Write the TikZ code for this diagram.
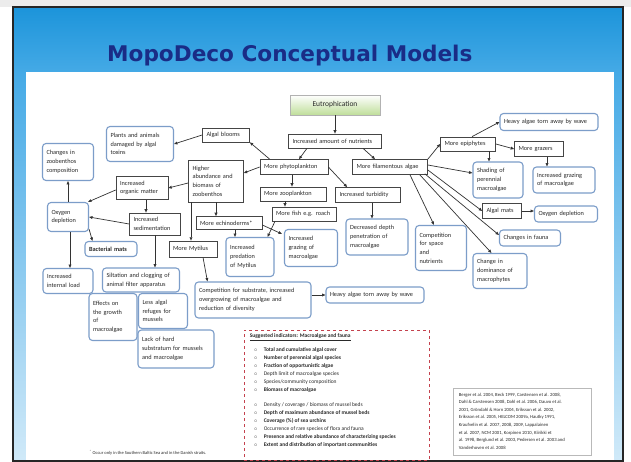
\documentclass[tikz,border=0pt]{standalone}
\usepackage{fontspec}
\setmainfont{Carlito}
\newfontfamily\ttlfont{DejaVu Sans}
\usetikzlibrary{arrows.meta,shadows,calc}
\definecolor{hdrblue}{HTML}{1C94DA}
\definecolor{hdrblueb}{HTML}{45AAE6}
\definecolor{titleblue}{HTML}{1A2C86}
\definecolor{rbblue}{HTML}{7C9DC9}
\definecolor{boxline}{HTML}{454545}
\definecolor{eutgreen}{HTML}{BFDE9A}
\definecolor{dashred}{HTML}{C4424E}
\definecolor{txt}{HTML}{2A2A2A}
\newcommand\boxfont{\fontsize{6.3}{8.7}\selectfont}
\newcommand\ib{\makebox[14pt][l]{\hspace{4pt}$\scriptscriptstyle\circ$}}
\begin{document}
\begin{tikzpicture}[x=1pt,y=-1pt,font=\boxfont,text=txt,
  sq/.style={rectangle,draw=boxline,line width=0.7pt,fill=white,inner sep=2pt,align=left,
    drop shadow={shadow xshift=0.9pt,shadow yshift=-0.9pt,opacity=0.45}},
  rb/.style={rectangle,rounded corners=3.5pt,draw=rbblue,line width=1.1pt,fill=white,inner sep=2pt,align=left},
  wh/.style 2 args={minimum width=#1,minimum height=#2,text width=#1-8},
  arr/.style={draw=black!80,line width=0.7pt,-{Triangle[length=3.4pt,width=2.8pt]}}]
\useasboundingbox (0,0) rectangle (631,462);
% slide background
\fill[white] (0,0) rectangle (631,462);
\fill[gray!15] (0,0) rectangle (631,7);
\shade[top color=hdrblueb,bottom color=hdrblueb!25!white] (13,72) rectangle (623,462);
\shade[top color=hdrblue,bottom color=hdrblueb] (13,7) rectangle (623,73);
\fill[white] (26,72) rectangle (614,462);
\draw[black!85,line width=1.3pt] (13,7) rectangle (623,461);
\node[anchor=base west,inner sep=0,text=titleblue,font=\ttlfont\bfseries\fontsize{21.6}{22}\selectfont] (title) at (107,62) {MopoDeco Conceptual Models};
% nodes
\node[sq,align=center,font=\fontsize{7.5}{9}\selectfont,top color=white,bottom color=eutgreen,draw=gray!60,minimum width=90,minimum height=20] (eut) at (335,105) {Eutrophication};
\node[sq,wh={93}{14}] (nut) at (335,141) {Increased amount of nutrients};
\node[sq,wh={47}{14}] (alg) at (226,135) {Algal blooms};
\node[rb,wh={67}{35}] (plants) at (140,144) {Plants and animals\\damaged by algal\\toxins};
\node[rb,wh={51}{37}] (zbc) at (68,162) {Changes in\\zoobenthos\\composition};
\node[sq,wh={68}{15}] (phyto) at (294,167) {More phytoplankton};
\node[sq,wh={55}{42}] (higher) at (216,181) {Higher\\abundance and\\biomass of\\zoobenthos};
\node[sq,wh={75}{15}] (fil) at (390,167) {More filamentous algae};
\node[sq,wh={52}{23}] (org) at (142,188) {Increased\\organic matter};
\node[sq,wh={66}{14}] (zpl) at (293,194) {More zooplankton};
\node[sq,wh={65}{15}] (turb) at (368,195) {Increased turbidity};
\node[rb,wh={41}{29}] (oxl) at (68,217) {Oxygen\\depletion};
\node[sq,wh={51}{22}] (sed) at (155,224) {Increased\\sedimentation};
\node[sq,wh={66}{13}] (ech) at (229,223) {More echinoderms*};
\node[sq,wh={64}{14}] (fish) at (304,214) {More fish e.g. roach};
\node[rb,wh={62}{36}] (dec) at (377,237) {Decreased depth\\penetration of\\macroalgae};
\node[rb,wh={52}{15},font=\boxfont\bfseries] (bac) at (111,249) {Bacterial mats};
\node[sq,wh={48}{16}] (myt) at (193,249) {More Mytilus};
\node[rb,wh={48}{39}] (pred) at (250,257) {Increased\\predation\\of Mytilus};
\node[rb,wh={53}{37}] (grm) at (311,248) {Increased\\grazing of\\macroalgae};
\node[rb,wh={50}{25}] (intl) at (68,281) {Increased\\internal load};
\node[rb,wh={77}{24}] (silt) at (141,280) {Siltation and clogging of\\animal filter apparatus};
\node[rb,wh={48}{47}] (eff) at (113,317) {Effects on\\the growth\\of\\macroalgae};
\node[rb,wh={49}{35}] (less) at (163,311) {Less algal\\refuges for\\mussels};
\node[rb,wh={76}{38}] (lack) at (176,349) {Lack of hard\\substratum for mussels\\and macroalgae};
\node[rb,wh={116}{36}] (comp) at (253,300) {Competition for substrate, increased\\overgrowing of macroalgae and\\reduction of diversity};
\node[rb,wh={98}{16}] (heavyb) at (375,295) {Heavy algae torn away by wave};
\node[rb,wh={51}{45}] (csp) at (441,248) {Competition\\for space\\and\\nutrients};
\node[rb,wh={54}{35}] (cdom) at (500,271) {Change in\\dominance of\\macrophytes};
\node[rb,wh={61}{16}] (cfa) at (530,238) {Changes in fauna};
\node[sq,wh={39}{15}] (amats) at (502,211) {Algal mats};
\node[rb,wh={63}{16}] (oxr) at (566,214) {Oxygen depletion};
\node[rb,wh={50}{36}] (shad) at (498,180) {Shading of\\perennial\\macroalgae};
\node[rb,wh={62}{26}] (grr) at (564,180) {Increased grazing\\of macroalgae};
\node[sq,wh={55}{14}] (epi) at (468,144) {More epiphytes};
\node[sq,wh={49}{15}] (grz) at (539,149) {More grazers};
\node[rb,wh={98}{17}] (heavyt) at (549,122) {Heavy algae torn away by wave};
% indicator box
\node[draw=dashred,dashed,line width=0.9pt,minimum width=185,minimum height=130,inner sep=0] (ind) at (336.5,395) {};
\node[anchor=north west,align=left,inner sep=0,font=\fontsize{5.5}{7.9}\selectfont] (indtext) at ($(ind.north west)+(6,4)$) {%
\textbf{\underline{Suggested indicators: Macroalgae and fauna}}\\[6pt]
\ib\textbf{Total and cumulative algal cover}\\
\ib\textbf{Number of perennial algal species}\\
\ib\textbf{Fraction of opportunistic algae}\\
\ib Depth limit of macroalgae species\\
\ib Species/community composition\\
\ib\textbf{Biomass of macroalgae}\\[7.9pt]
\ib Density / coverage / biomass of mussel beds\\
\ib\textbf{Depth of maximum abundance of mussel beds}\\
\ib\textbf{Coverage (\%) of sea urchins}\\
\ib Occurrence of rare species of flora and fauna\\
\ib\textbf{Presence and relative abundance of characterizing species}\\
\ib\textbf{Extent and distribution of important communities}};
% references box
\node[draw=gray!55,line width=0.6pt,fill=white,minimum width=138,minimum height=67,inner sep=0] (refs) at (522,421.5) {};
\node[anchor=north west,align=left,inner sep=0,font=\fontsize{4.7}{7.6}\selectfont] (refstext) at ($(refs.north west)+(6,5)$) {%
Berger et al. 2004, Beck 1999, Carstensen et al. 2008,\\
Dahl \& Carstensen 2008, Dahl et al. 2006, Dauvo et al.\\
2001, Gröndahl \& Horn 2004, Eriksson et al. 2002,\\
Eriksson et al. 2005, HELCOM 2009a, Hautky 1991,\\
Kraufvelin et al. 2007, 2008, 2009, Lappalainen\\
et al. 2007, NCM 2001, Korpinen 2010, Kiirikki et\\
al. 1998, Berglund et al. 2003, Pedersen et al. 2003 and\\
Vanderhoven et al. 2008};
\node[font=\fontsize{4.5}{5}\selectfont,inner sep=0] (fn) at (148,453) {\textsuperscript{*} Occur only in the Southern Baltic Sea and in the Danish straits.};
% connectors
\draw[arr] (eut) -- (nut);
\draw[arr] ([xshift=-28pt]nut.south) -- ([xshift=5pt]phyto.north);
\draw[arr] ([xshift=28pt]nut.south) -- ([xshift=-15pt]fil.north);
\draw[arr] ([xshift=10pt]phyto.north west) -- (alg.south east);
\draw[arr] (alg.west) -- (plants.east);
\draw[arr] (phyto.west) -- ([yshift=8pt]higher.east);
\draw[arr] ([xshift=-2pt]phyto.south) -- ([xshift=-2pt]phyto.south |- zpl.north);
\draw[arr] (phyto.east) -- ([xshift=12pt]turb.north west);
\draw[arr] ([xshift=-8pt]zpl.south) -- ([xshift=-8pt]zpl.south |- fish.north);
\draw[arr] ([xshift=4pt]turb.south) -- ([xshift=4pt]turb.south |- dec.north);
\draw[arr] ([yshift=-2pt]higher.west) -- (org.east);
\draw[arr] (higher.south) -- (higher.south |- ech.north);
\draw[arr] ([xshift=-25pt]higher.south) -- ([xshift=-25pt]higher.south |- myt.north);
\draw[arr] ([yshift=-2pt]org.west) -- ([xshift=-1pt]oxl.north east);
\draw[arr] ([xshift=4pt]org.south) -- ([xshift=4pt]org.south |- sed.north);
\draw[arr] (sed.west) -- (oxl.east);
\draw[arr] (sed.south) -- (sed.south |- silt.north);
\draw[arr] (oxl) -- (zbc);
\draw[arr] ([yshift=3pt]oxl.south east) -- ([xshift=8pt]bac.north west);
\draw[arr] ([xshift=2pt]oxl.south) -- ([xshift=2pt]oxl.south |- intl.north);
\draw[arr] ([xshift=6pt]ech.south) -- ([xshift=6pt]ech.south |- pred.north);
\draw[arr] ([yshift=-2pt]ech.east) -- ($(grm.north west)+(-2,5)$);
\draw[arr] ([xshift=-29pt]fish.south) -- ($(pred.north east)+(-7,0)$);
\draw[arr] ([xshift=10pt]myt.south) -- ($(comp.north west)+(13,0)$);
\draw[arr] (comp.east |- heavyb.west) -- (heavyb.west);
\draw[arr] (fil.north east) -- (epi.west);
\draw[arr] ($(epi.north)+(4,0)$) -- (heavyt.west);
\draw[arr] (epi.east) -- (grz.west);
\draw[arr] ([xshift=21pt]epi.south) -- ([xshift=21pt]epi.south |- shad.north);
\draw[arr] ([xshift=8pt]grz.south) -- ([xshift=8pt]grz.south |- grr.north);
\draw[arr] ([yshift=2pt]fil.east) -- ([yshift=7pt]shad.west);
\draw[arr] ([yshift=-3pt]fil.east) -- (amats.west);
\draw[arr] ($(fil.south east)+(-3,-1)$) -- ($(cfa.west)+(0,-3)$);
\draw[arr] ($(fil.south east)+(-8,0)$) -- ($(cdom.north west)+(19,0)$);
\draw[arr] ($(fil.south)+(20,0)$) -- ($(csp.north)+(-7,0)$);
\draw[arr] (amats.east) -- (amats.east -| oxr.west);
\end{tikzpicture}
\end{document}
